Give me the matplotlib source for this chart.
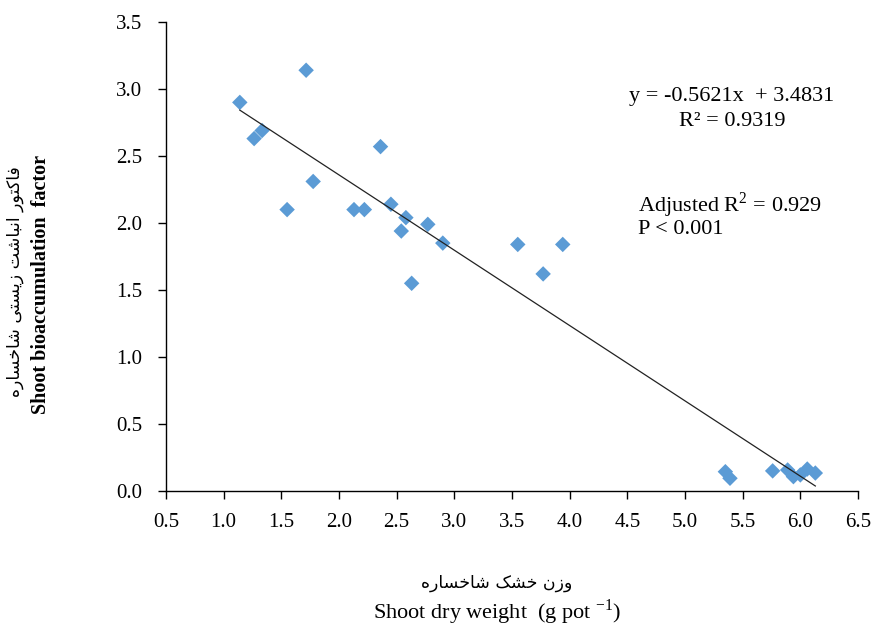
import matplotlib
matplotlib.use("Agg")
import matplotlib.pyplot as plt
import numpy as np

# ---- data ----
shoot_dry_weight = [1.14, 1.715, 1.264, 1.333, 1.55, 1.776, 2.13, 2.22, 2.36, 2.45,
                    2.54, 2.58, 2.77, 2.90, 2.63, 3.55, 3.77, 3.94,
                    5.35, 5.39, 5.76, 5.89, 5.94, 6.00, 6.06, 6.13]
bioaccumulation = [2.90, 3.14, 2.63, 2.69, 2.10, 2.31, 2.10, 2.10, 2.57, 2.14,
                   1.94, 2.04, 1.99, 1.85, 1.55, 1.84, 1.62, 1.84,
                   0.144, 0.095, 0.15, 0.157, 0.107, 0.12, 0.164, 0.134]
slope = -0.5621
intercept = 3.4831
x_ticks = [0.5, 1.0, 1.5, 2.0, 2.5, 3.0, 3.5, 4.0, 4.5, 5.0, 5.5, 6.0, 6.5]
y_ticks = [0.0, 0.5, 1.0, 1.5, 2.0, 2.5, 3.0, 3.5]

xlabel_fa = "وزن خشک شاخساره"
ylabel_fa = "فاکتور انباشت زیستی شاخساره"
xlabel_en = "Shoot dry weight  (g pot $^{-1}$)"
ylabel_en = "Shoot bioaccumulation  factor"

# ---- simple Persian shaping (presentation forms, visual order) ----
FORMS = {  # isolated, final, initial, medial
    'ا': ('\uFE8D', '\uFE8E', None, None),
    'ب': ('\uFE8F', '\uFE90', '\uFE91', '\uFE92'),
    'ت': ('\uFE95', '\uFE96', '\uFE97', '\uFE98'),
    'خ': ('\uFEA5', '\uFEA6', '\uFEA7', '\uFEA8'),
    'ر': ('\uFEAD', '\uFEAE', None, None),
    'ز': ('\uFEAF', '\uFEB0', None, None),
    'س': ('\uFEB1', '\uFEB2', '\uFEB3', '\uFEB4'),
    'ش': ('\uFEB5', '\uFEB6', '\uFEB7', '\uFEB8'),
    'ف': ('\uFED1', '\uFED2', '\uFED3', '\uFED4'),
    'ن': ('\uFEE5', '\uFEE6', '\uFEE7', '\uFEE8'),
    'ه': ('\uFEE9', '\uFEEA', '\uFEEB', '\uFEEC'),
    'و': ('\uFEED', '\uFEEE', None, None),
    'ک': ('\uFB8E', '\uFB8F', '\uFB90', '\uFB91'),
    'ی': ('\uFBFC', '\uFBFD', '\uFBFE', '\uFBFF'),
}


def shape(text):
    out = []
    n = len(text)
    for i, ch in enumerate(text):
        if ch not in FORMS:
            out.append(ch)
            continue
        prev = text[i - 1] if i > 0 else None
        nxt = text[i + 1] if i < n - 1 else None
        joins_prev = prev in FORMS and FORMS[prev][2] is not None
        joins_next = nxt in FORMS and FORMS[ch][2] is not None
        iso, fin, ini, med = FORMS[ch]
        if joins_prev and joins_next:
            out.append(med)
        elif joins_prev:
            out.append(fin)
        elif joins_next:
            out.append(ini)
        else:
            out.append(iso)
    return ''.join(reversed(out))


plt.rcParams['font.family'] = ['Liberation Serif', 'DejaVu Sans']
plt.rcParams['mathtext.fontset'] = 'custom'
plt.rcParams['mathtext.rm'] = 'Liberation Serif'

fig = plt.figure(figsize=(8.75, 6.29), dpi=100)
ax = fig.add_axes([166 / 875, 1 - 491 / 629, (858 - 166) / 875, (491 - 22) / 629])

ax.scatter(shoot_dry_weight, bioaccumulation, marker='D', s=62, color='#5B9BD5',
           edgecolors='none', zorder=3)
xs = np.array([min(shoot_dry_weight), max(shoot_dry_weight)])
ax.plot(xs, slope * xs + intercept, color='#222222', lw=0.9, zorder=4)

ax.set_xlim(0.5, 6.5)
ax.set_ylim(0.0, 3.5)
ax.set_xticks(x_ticks)
ax.set_yticks(y_ticks)
ax.set_xticklabels([f"{v:.1f}" for v in x_ticks])
ax.set_yticklabels([f"{v:.1f}" for v in y_ticks])
ax.tick_params(labelsize=15, direction='out', length=6, width=1)
ax.tick_params(axis='x', pad=10)
ax.tick_params(axis='y', pad=11)
for s in ['top', 'right']:
    ax.spines[s].set_visible(False)
for s in ['left', 'bottom']:
    ax.spines[s].set_linewidth(1)

fig.text(497 / 875, 1 - 583 / 629, shape(xlabel_fa), ha='center', va='center',
         fontsize=12.5, family=['DejaVu Sans'])
fig.text(497 / 875, 1 - 612 / 629, xlabel_en, ha='center', va='center', fontsize=16)
fig.text(15 / 875, 1 - 282 / 629, shape(ylabel_fa), ha='center', va='center',
         rotation=90, fontsize=12.5, family=['DejaVu Sans'])
fig.text(41 / 875, 1 - 285 / 629, ylabel_en, ha='center', va='center',
         rotation=90, fontsize=14.5, fontweight='bold')

fig.text(732 / 875, 1 - 97 / 629, "y = -0.5621x  + 3.4831", ha='center', va='center', fontsize=16)
fig.text(732 / 875, 1 - 122 / 629, "R² = 0.9319", ha='center', va='center', fontsize=16)
fig.text(638 / 875, 1 - 205 / 629, "Adjusted R$^{2}$ = 0.929", ha='left', va='center', fontsize=16)
fig.text(638 / 875, 1 - 230 / 629, "P < 0.001", ha='left', va='center', fontsize=16)

fig.savefig("out.png", dpi=100)
